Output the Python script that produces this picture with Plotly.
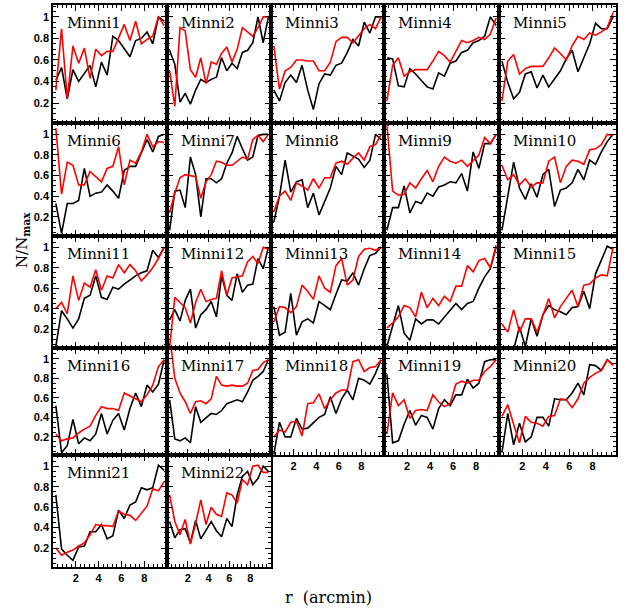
import plotly.graph_objects as go

# ---------------- data ----------------
R = [0.25, 0.75, 1.25, 1.75, 2.25, 2.75, 3.25, 3.75, 4.25, 4.75,
     5.25, 5.75, 6.25, 6.75, 7.25, 7.75, 8.25, 8.75, 9.25, 9.75]

PANEL_NAMES = ["Minni1", "Minni2", "Minni3", "Minni4", "Minni5",
               "Minni6", "Minni7", "Minni8", "Minni9", "Minni10",
               "Minni11", "Minni12", "Minni13", "Minni14", "Minni15",
               "Minni16", "Minni17", "Minni18", "Minni19", "Minni20",
               "Minni21", "Minni22"]

X_TICKS = [2, 4, 6, 8]
Y_TICKS = [0.2, 0.4, 0.6, 0.8, 1.0]
Y_TICK_TEXT = ["0.2", "0.4", "0.6", "0.8", "1"]

m1_black = [0.41, 0.53, 0.24, 0.51, 0.40, 0.48, 0.55, 0.35, 0.58, 0.46, 0.82, 0.78, 0.70, 0.63, 0.78, 0.80, 0.86, 0.75, 1.00, 0.96]
m1_red = [0.32, 0.89, 0.24, 0.73, 0.57, 0.71, 0.43, 0.70, 0.64, 0.68, 0.68, 0.80, 0.93, 0.78, 0.96, 0.75, 0.79, 0.82, 1.00, 0.92]
m2_black = [0.69, 0.56, 0.21, 0.29, 0.19, 0.32, 0.42, 0.39, 0.42, 0.44, 0.62, 0.50, 0.57, 0.52, 0.67, 0.69, 0.76, 1.00, 0.76, 1.00]
m2_red = [0.50, 0.17, 0.90, 0.87, 0.51, 0.44, 0.62, 0.38, 0.58, 0.56, 0.66, 0.72, 0.58, 0.70, 0.90, 0.86, 0.82, 0.90, 1.00, 1.00]
m3_black = [0.32, 0.22, 0.39, 0.46, 0.39, 0.55, 0.32, 0.14, 0.38, 0.47, 0.46, 0.55, 0.57, 0.67, 0.79, 0.73, 0.95, 0.85, 1.00, 1.00]
m3_red = [0.73, 0.33, 0.50, 0.53, 0.60, 0.60, 0.59, 0.59, 0.50, 0.50, 0.58, 0.77, 0.81, 0.81, 0.76, 0.82, 0.89, 0.93, 0.89, 1.00]
m4_black = [0.62, 0.61, 0.36, 0.35, 0.52, 0.47, 0.41, 0.35, 0.33, 0.48, 0.45, 0.57, 0.59, 0.67, 0.69, 0.76, 0.78, 0.82, 1.00, 0.92]
m4_red = [0.22, 0.55, 0.62, 0.45, 0.49, 0.51, 0.51, 0.51, 0.59, 0.68, 0.64, 0.58, 0.68, 0.78, 0.76, 0.78, 0.81, 0.79, 0.84, 0.99]
m5_black = [0.59, 0.39, 0.24, 0.30, 0.47, 0.49, 0.34, 0.46, 0.35, 0.42, 0.50, 0.61, 0.69, 0.49, 0.62, 0.75, 0.94, 0.89, 0.89, 1.00]
m5_red = [0.22, 0.59, 0.65, 0.47, 0.52, 0.54, 0.54, 0.54, 0.62, 0.71, 0.66, 0.60, 0.73, 0.82, 0.79, 0.85, 0.83, 0.86, 0.90, 1.04]
m6_black = [0.33, 0.04, 0.33, 0.33, 0.36, 0.67, 0.40, 0.43, 0.44, 0.51, 0.45, 0.38, 0.65, 0.69, 0.69, 0.82, 0.95, 0.83, 0.98, 1.00]
m6_red = [1.06, 0.42, 0.73, 0.70, 0.51, 0.51, 0.64, 0.59, 0.54, 0.67, 0.69, 0.88, 0.51, 0.75, 0.72, 0.83, 1.00, 0.88, 0.93, 0.92]
m7_black = [0.07, 0.45, 0.46, 0.29, 0.78, 0.61, 0.20, 0.57, 0.57, 0.53, 0.57, 0.72, 0.82, 0.98, 0.86, 0.75, 0.78, 0.99, 1.00, 1.00]
m7_red = [0.24, 0.43, 0.58, 0.61, 0.60, 0.59, 0.38, 0.54, 0.61, 0.74, 0.73, 0.70, 0.70, 0.74, 0.78, 0.76, 0.95, 0.99, 0.93, 1.00]
m8_black = [0.15, 0.40, 0.75, 0.44, 0.54, 0.56, 0.29, 0.43, 0.22, 0.35, 0.48, 0.69, 0.61, 0.82, 0.79, 0.76, 0.68, 0.75, 1.00, 0.95]
m8_red = [0.25, 0.40, 0.45, 0.36, 0.53, 0.50, 0.46, 0.57, 0.48, 0.58, 0.58, 0.72, 0.74, 0.71, 0.77, 0.82, 0.75, 0.88, 0.90, 1.00]
m9_black = [0.07, 0.29, 0.29, 0.50, 0.24, 0.35, 0.33, 0.43, 0.40, 0.49, 0.51, 0.54, 0.53, 0.62, 0.45, 0.83, 0.67, 0.91, 0.91, 1.00]
m9_red = [1.10, 0.45, 0.41, 0.42, 0.53, 0.48, 0.57, 0.65, 0.54, 0.69, 0.78, 0.74, 0.72, 0.75, 0.69, 0.75, 0.80, 0.97, 0.91, 1.00]
m10_black = [0.07, 0.40, 0.73, 0.48, 0.37, 0.52, 0.39, 0.61, 0.66, 0.30, 0.46, 0.48, 0.53, 0.66, 0.56, 0.75, 0.71, 0.83, 0.93, 1.00]
m10_red = [0.70, 0.56, 0.61, 0.51, 0.57, 0.49, 0.53, 0.53, 0.74, 0.78, 0.53, 0.69, 0.75, 0.74, 0.71, 0.85, 0.86, 0.90, 1.00, 0.99]
m11_black = [0.03, 0.38, 0.30, 0.21, 0.30, 0.50, 0.53, 0.72, 0.51, 0.49, 0.61, 0.59, 0.64, 0.68, 0.72, 0.75, 0.77, 0.97, 0.90, 1.00]
m11_red = [0.40, 0.46, 0.35, 0.72, 0.48, 0.65, 0.61, 0.78, 0.58, 0.72, 0.70, 0.83, 0.75, 0.83, 0.77, 0.67, 0.73, 0.80, 0.89, 1.00]
m12_black = [0.29, 0.39, 0.28, 0.48, 0.59, 0.21, 0.34, 0.39, 0.47, 0.32, 0.72, 0.53, 0.48, 0.74, 0.56, 0.63, 0.64, 0.89, 0.79, 1.00]
m12_red = [0.02, 0.51, 0.46, 0.41, 0.26, 0.46, 0.59, 0.47, 0.49, 0.50, 0.77, 0.53, 0.70, 0.71, 0.72, 0.86, 0.91, 0.84, 1.00, 0.98]
m13_black = [0.42, 0.14, 0.17, 0.55, 0.14, 0.27, 0.30, 0.26, 0.47, 0.43, 0.39, 0.54, 0.68, 0.67, 0.75, 0.63, 0.79, 0.92, 0.94, 1.00]
m13_red = [0.27, 0.42, 0.41, 0.36, 0.42, 0.63, 0.57, 0.49, 0.72, 0.60, 0.56, 0.82, 0.89, 0.63, 0.68, 0.91, 0.98, 0.99, 0.97, 1.00]
m14_black = [0.03, 0.22, 0.43, 0.16, 0.09, 0.30, 0.25, 0.29, 0.29, 0.25, 0.32, 0.39, 0.45, 0.39, 0.45, 0.47, 0.60, 0.71, 0.79, 1.00]
m14_red = [0.21, 0.26, 0.32, 0.43, 0.41, 0.32, 0.56, 0.41, 0.50, 0.43, 0.52, 0.47, 0.62, 0.62, 0.82, 0.76, 0.87, 0.89, 0.80, 1.02]
m15_black = [-0.05, -0.05, 0.00, 0.22, 0.03, 0.30, 0.13, 0.34, 0.43, 0.39, 0.37, 0.34, 0.41, 0.42, 0.57, 0.40, 0.74, 0.87, 1.01, 0.98]
m15_red = [0.25, 0.17, 0.39, 0.17, 0.30, 0.30, 0.17, 0.34, 0.50, 0.31, 0.42, 0.50, 0.58, 0.42, 0.63, 0.64, 0.70, 0.73, 0.72, 1.00]
m16_black = [0.52, 0.04, 0.11, 0.38, 0.13, 0.19, 0.16, 0.23, 0.44, 0.23, 0.37, 0.44, 0.27, 0.49, 0.65, 0.51, 0.73, 0.66, 0.74, 0.99]
m16_red = [0.23, 0.16, 0.18, 0.19, 0.24, 0.28, 0.31, 0.42, 0.51, 0.49, 0.49, 0.47, 0.65, 0.62, 0.59, 0.56, 0.63, 0.73, 0.92, 0.99]
m17_black = [0.58, 0.18, 0.16, 0.19, 0.14, 0.51, 0.35, 0.40, 0.44, 0.43, 0.47, 0.54, 0.56, 0.58, 0.56, 0.66, 0.78, 0.82, 0.87, 0.99]
m17_red = [1.25, 0.80, 0.65, 0.56, 0.44, 0.56, 0.57, 0.54, 0.59, 0.82, 0.73, 0.72, 0.73, 0.72, 0.72, 0.75, 0.88, 0.89, 0.96, 0.99]
m18_black = [0.02, 0.35, 0.20, 0.20, 0.39, 0.28, 0.29, 0.34, 0.40, 0.43, 0.61, 0.44, 0.59, 0.68, 0.58, 0.80, 0.78, 0.74, 0.85, 0.99]
m18_red = [0.20, 0.27, 0.25, 0.35, 0.36, 0.21, 0.54, 0.55, 0.64, 0.49, 0.58, 0.65, 0.68, 0.68, 0.97, 0.99, 0.87, 0.91, 0.92, 0.99]
m19_black = [0.84, 0.14, 0.16, 0.33, 0.47, 0.32, 0.42, 0.40, 0.28, 0.49, 0.58, 0.52, 0.63, 0.63, 0.79, 0.70, 0.75, 0.97, 0.99, 0.99]
m19_red = [0.23, 0.65, 0.52, 0.58, 0.39, 0.47, 0.48, 0.47, 0.63, 0.56, 0.51, 0.54, 0.74, 0.77, 0.75, 0.78, 0.78, 0.87, 0.92, 0.99]
m20_black = [0.04, 0.44, 0.12, 0.34, 0.15, 0.20, 0.40, 0.40, 0.31, 0.59, 0.58, 0.58, 0.65, 0.75, 0.63, 0.94, 0.93, 0.88, 0.99, 0.94]
m20_red = [0.41, 0.53, 0.33, 0.14, 0.41, 0.35, 0.34, 0.31, 0.41, 0.42, 0.59, 0.58, 0.50, 0.59, 0.75, 0.81, 0.85, 0.88, 0.99, 0.93]
m21_black = [0.72, 0.19, 0.13, 0.08, 0.21, 0.22, 0.36, 0.36, 0.43, 0.29, 0.32, 0.57, 0.49, 0.62, 0.65, 0.79, 0.77, 0.79, 1.01, 0.96]
m21_red = [0.20, 0.13, 0.16, 0.18, 0.22, 0.25, 0.33, 0.43, 0.42, 0.42, 0.41, 0.56, 0.53, 0.52, 0.47, 0.54, 0.61, 0.78, 0.76, 0.85]
m22_black = [0.46, 0.30, 0.38, 0.39, 0.25, 0.47, 0.29, 0.38, 0.46, 0.37, 0.31, 0.49, 0.41, 0.72, 0.90, 0.95, 0.82, 0.88, 1.00, 0.95]
m22_red = [0.72, 0.46, 0.33, 0.48, 0.24, 0.44, 0.67, 0.43, 0.60, 0.53, 0.51, 0.74, 0.72, 0.64, 0.87, 0.82, 1.00, 1.01, 0.94, 0.94]

BLACK_SERIES = [m1_black, m2_black, m3_black, m4_black, m5_black, m6_black, m7_black, m8_black,
                m9_black, m10_black, m11_black, m12_black, m13_black, m14_black, m15_black,
                m16_black, m17_black, m18_black, m19_black, m20_black, m21_black, m22_black]
RED_SERIES = [m1_red, m2_red, m3_red, m4_red, m5_red, m6_red, m7_red, m8_red,
              m9_red, m10_red, m11_red, m12_red, m13_red, m14_red, m15_red,
              m16_red, m17_red, m18_red, m19_red, m20_red, m21_red, m22_red]

# ---------------- layout geometry (pixels) ----------------
W, H = 628, 610
COL_L = [53, 167, 271, 384, 499]
COL_R = [167, 271, 384, 499, 616]
ROW_T = [5, 123, 236, 348, 455]
ROW_B = [123, 236, 348, 455, 567]

fig = go.Figure()
layout = dict(
    width=W, height=H,
    margin=dict(l=0, r=0, t=0, b=0),
    paper_bgcolor="white", plot_bgcolor="white",
    showlegend=False,
)
annotations = []

tickfont = dict(family="Liberation Sans, Arial, sans-serif", size=11, color="black", weight="bold")

for k, name in enumerate(PANEL_NAMES):
    row, col = divmod(k, 5)
    sfx = "" if k == 0 else str(k + 1)
    xref, yref = "x" + sfx, "y" + sfx
    fig.add_trace(go.Scatter(x=R, y=BLACK_SERIES[k], mode="lines",
                             line=dict(color="black", width=1.6),
                             xaxis=xref, yaxis=yref, hoverinfo="skip"))
    fig.add_trace(go.Scatter(x=R, y=RED_SERIES[k], mode="lines",
                             line=dict(color="#ff0000", width=1.6),
                             xaxis=xref, yaxis=yref, hoverinfo="skip"))
    show_x = (row == 4) or (row == 3 and col >= 2)
    show_y = (col == 0)
    common = dict(showline=True, linewidth=1.6, linecolor="black", mirror="allticks",
                  ticks="inside", ticklen=6, tickwidth=1.3, tickcolor="black",
                  showgrid=False, zeroline=False, fixedrange=True, tickfont=tickfont)
    layout["xaxis" + sfx] = dict(
        common, domain=[COL_L[col] / W, COL_R[col] / W], range=[0, 10],
        anchor=yref, tickvals=X_TICKS, showticklabels=show_x,
        minor=dict(ticks="inside", ticklen=3, tickwidth=1, tickcolor="black", dtick=0.4, tick0=0, showgrid=False),
    )
    layout["yaxis" + sfx] = dict(
        common, domain=[1 - ROW_B[row] / H, 1 - ROW_T[row] / H], range=[0.015, 1.11],
        anchor=xref, tickvals=Y_TICKS, ticktext=Y_TICK_TEXT, showticklabels=show_y,
        minor=dict(ticks="inside", ticklen=3, tickwidth=1, tickcolor="black", dtick=0.05, tick0=0, showgrid=False),
    )
    annotations.append(dict(
        text=name, xref="paper", yref="paper",
        x=(COL_L[col] + 12) / W, y=1 - (ROW_T[row] + 18) / H,
        xanchor="left", yanchor="middle", showarrow=False,
        font=dict(family="DejaVu Serif", size=15, color="black"),
    ))

annotations.append(dict(
    text="N/N<sub><b>max</b></sub>", xref="paper", yref="paper",
    x=22 / W, y=1 - 240 / H, textangle=-90, showarrow=False,
    xanchor="center", yanchor="middle",
    font=dict(family="DejaVu Serif", size=15, color="black"),
))
annotations.append(dict(
    text="r  (arcmin)", xref="paper", yref="paper",
    x=328 / W, y=1 - 597 / H, showarrow=False,
    xanchor="center", yanchor="middle",
    font=dict(family="DejaVu Serif", size=16, color="black"),
))
layout["annotations"] = annotations
fig.update_layout(**layout)
fig.write_html("out.html")
